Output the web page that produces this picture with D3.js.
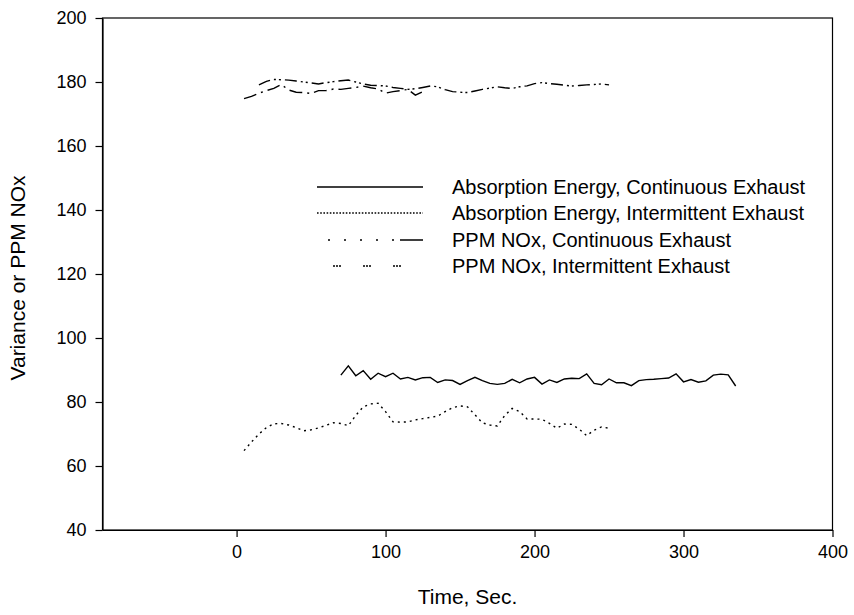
<!DOCTYPE html>
<html>
<head>
<meta charset="utf-8">
<script src="https://cdn.jsdelivr.net/npm/d3@7.9.0/dist/d3.min.js"></script>
<style>
  body { margin: 0; background: #fff; }
  svg { display: block; font-family: Arial, "Liberation Sans", sans-serif; }
</style>
</head>
<body>
<svg id="chart" width="854" height="615"></svg>
<script>
// time axis values are every 5 sec
const absContStart = 70;
const absContValues = [88.4, 91.3, 88.2, 89.8, 87.1, 89.0, 87.9, 89.0, 87.2, 87.7,
  86.9, 87.6, 87.7, 86.1, 86.9, 86.7, 85.5, 86.7, 87.7, 86.7,
  85.8, 85.5, 85.8, 87.1, 86.0, 87.2, 87.7, 85.6, 86.9, 86.1,
  87.2, 87.4, 87.3, 88.8, 85.8, 85.4, 87.2, 86.0, 86.0, 85.1,
  86.7, 87.0, 87.1, 87.3, 87.5, 88.8, 86.3, 87.0, 86.2, 86.6,
  88.4, 88.7, 88.5, 85.0];

const absIntStart = 5;
const absIntValues = [64.8, 67.5, 70.0, 72.0, 73.2, 73.3, 72.8, 72.0, 71.0, 71.3,
  71.9, 72.7, 73.5, 73.3, 72.6, 75.8, 78.5, 79.4, 79.6, 77.0,
  73.8, 73.7, 73.8, 74.4, 74.8, 75.2, 75.6, 77.0, 78.2, 78.8,
  78.5, 76.0, 73.5, 72.8, 72.5, 75.8, 78.0, 77.0, 74.7, 74.7,
  74.6, 73.3, 71.8, 73.1, 73.0, 71.5, 69.5, 71.2, 72.2, 71.8];

const noxContStart = 5;
const noxContValues = [174.8, 175.5, 176.5, 177.3, 178.0, 179.2, 177.5, 176.8, 176.7, 176.4,
  177.3, 177.3, 177.8, 177.7, 178.0, 178.3, 178.7, 178.2, 177.8, 176.5,
  177.0, 177.3, 177.7, 175.9, 177.0];

const noxIntStart = 15;
const noxIntValues = [179.1, 180.2, 180.8, 180.7, 180.6, 180.3, 180.0, 179.7, 179.4, 179.8,
  180.1, 180.4, 180.6, 180.0, 179.4, 179.0, 178.9, 178.75, 178.3, 178.0,
  177.7, 177.9, 178.3, 178.75, 178.5, 177.6, 177.0, 176.8, 176.7, 177.2,
  177.7, 178.1, 178.5, 178.2, 178.0, 178.5, 178.8, 179.5, 179.8, 179.5,
  179.3, 179.0, 178.75, 178.9, 179.1, 179.2, 179.4, 179.1];

const xTicks = [0, 100, 200, 300, 400];
const yTicks = [40, 60, 80, 100, 120, 140, 160, 180, 200];

const seriesNames = [
  'Absorption Energy, Continuous Exhaust',
  'Absorption Energy, Intermittent Exhaust',
  'PPM NOx, Continuous Exhaust',
  'PPM NOx, Intermittent Exhaust'
];

function toPoints(start, values) {
  return values.map((v, i) => ({ x: start + i * 5, y: v }));
}

const series = [
  { name: seriesNames[0], data: toPoints(absContStart, absContValues),
    dash: null, legendDash: null, legendOffset: 0 },
  { name: seriesNames[1], data: toPoints(absIntStart, absIntValues),
    dash: '2,4', legendDash: '1.6,1.6', legendOffset: 0 },
  { name: seriesNames[2], data: toPoints(noxContStart, noxContValues),
    dash: '13,5,2,5', legendDash: '0,11,2,14,2,14,2,14,2,14,2,6,24,60', legendOffset: 0 },
  { name: seriesNames[3], data: toPoints(noxIntStart, noxIntValues),
    dash: '12,4,2,3,2,4', legendDash: '2,1,2,1,2,22', legendOffset: 14 }
];

const svg = d3.select('#chart');
const plotL = 102.5, plotR = 832.5, plotT = 18, plotB = 530;

const x = d3.scaleLinear().domain([-90, 400]).range([plotL, plotR]);
const y = d3.scaleLinear().domain([40, 200]).range([plotB, plotT]);

// frame
svg.append('rect')
  .attr('x', plotL).attr('y', plotT)
  .attr('width', plotR - plotL).attr('height', plotB - plotT)
  .attr('fill', 'none').attr('stroke', '#000').attr('stroke-width', 1.2);

const xAxis = svg.append('g')
  .attr('transform', `translate(0,${plotB})`)
  .call(d3.axisBottom(x).tickValues(xTicks).tickSize(7).tickPadding(8).tickSizeOuter(0));
const yAxis = svg.append('g')
  .attr('transform', `translate(${plotL},0)`)
  .call(d3.axisLeft(y).tickValues(yTicks).tickSize(7).tickPadding(9).tickSizeOuter(0));

[xAxis, yAxis].forEach(a => {
  a.select('.domain').attr('stroke-width', 1.2);
  a.selectAll('.tick line').attr('stroke-width', 1.2);
  a.selectAll('.tick text').attr('font-size', 18).attr('fill', '#000')
    .attr('font-family', 'Arial, "Liberation Sans", sans-serif');
});

svg.append('text')
  .attr('x', (plotL + plotR) / 2).attr('y', 604)
  .attr('text-anchor', 'middle').attr('font-size', 21)
  .text('Time, Sec.');

svg.append('text')
  .attr('transform', `translate(25,${(plotT + plotB) / 2 + 4}) rotate(-90)`)
  .attr('text-anchor', 'middle').attr('font-size', 21)
  .text('Variance or PPM NOx');

const line = d3.line().x(d => x(d.x)).y(d => y(d.y));

svg.append('g').selectAll('path')
  .data(series)
  .join('path')
  .attr('d', d => line(d.data))
  .attr('fill', 'none')
  .attr('stroke', '#000')
  .attr('stroke-width', 1.4)
  .attr('stroke-dasharray', d => d.dash);

// legend
const legendRows = [187, 213, 240, 266];
const legend = svg.append('g');
series.forEach((s, i) => {
  legend.append('line')
    .attr('x1', 317).attr('x2', 423)
    .attr('y1', legendRows[i]).attr('y2', legendRows[i])
    .attr('stroke', '#000').attr('stroke-width', 1.4)
    .attr('stroke-dasharray', s.legendDash)
    .attr('stroke-dashoffset', s.legendOffset);
  legend.append('text')
    .attr('x', 452).attr('y', legendRows[i])
    .attr('dy', '0.35em').attr('font-size', 20)
    .text(s.name);
});
</script>
</body>
</html>
